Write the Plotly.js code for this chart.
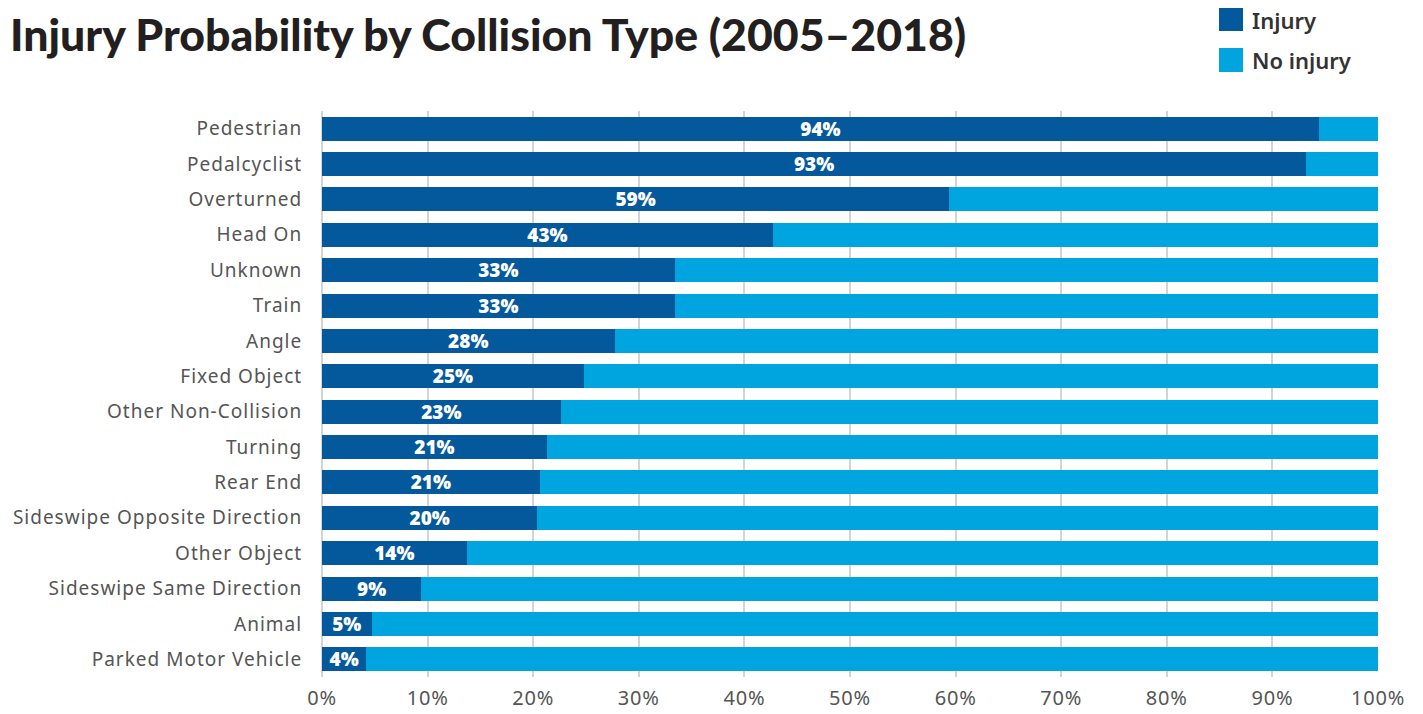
<!DOCTYPE html>
<html>
<head>
<meta charset="utf-8">
<script src="https://cdn.plot.ly/plotly-3.0.1.min.js"></script>
<style>
html,body{margin:0;padding:0;background:#fff;}
#chart{width:1423px;height:714px;}
#chart .ytick text{letter-spacing:1px;}
#chart .xtick text{letter-spacing:0.8px;}
</style>
</head>
<body>
<div id="chart"></div>
<script>
const categories = ["Pedestrian","Pedalcyclist","Overturned","Head On","Unknown","Train","Angle","Fixed Object","Other Non-Collision","Turning","Rear End","Sideswipe Opposite Direction","Other Object","Sideswipe Same Direction","Animal","Parked Motor Vehicle"];
const injury = [94.4, 93.2, 59.4, 42.7, 33.4, 33.4, 27.7, 24.8, 22.6, 21.3, 20.6, 20.4, 13.7, 9.4, 4.7, 4.2];
const noInjury = injury.map(v => 100 - v);
const xTickVals = [0,10,20,30,40,50,60,70,80,90,100];
const xTickText = xTickVals.map(v => v + "%");
const seriesNames = ["Injury", "No injury"];
const colors = ["#03599C", "#00A5DF"];

const traces = [
  {
    type: "bar", orientation: "h", name: seriesNames[0],
    y: categories, x: injury,
    marker: {color: colors[0], line: {width: 0}},
    text: injury.map(v => Math.round(v) + "%"),
    textposition: "inside", insidetextanchor: "middle",
    constraintext: "none",
    textfont: {family: "'Open Sans', sans-serif", size: 19, color: "#ffffff", weight: 800},
    hoverinfo: "skip", showlegend: false
  },
  {
    type: "bar", orientation: "h", name: seriesNames[1],
    y: categories, x: noInjury,
    marker: {color: colors[1], line: {width: 0}},
    hoverinfo: "skip", showlegend: false
  }
];

const PL = 322, PR = 1378, PT = 111, PB = 677;
const px = v => (v - PL) / (PR - PL);
const py = v => (PB - v) / (PB - PT);

const layout = {
  width: 1423, height: 714,
  margin: {l: PL, r: 1423 - PR, t: PT, b: 714 - PB, pad: 0},
  paper_bgcolor: "#fff", plot_bgcolor: "#fff",
  barmode: "stack", bargap: 0.32,
  font: {family: "'Noto Sans', sans-serif", color: "#555"},
  xaxis: {
    range: [0, 100], tickvals: xTickVals, ticktext: xTickText,
    showgrid: true, gridcolor: "#D4D4D6", gridwidth: 2,
    zeroline: true, zerolinecolor: "#D4D4D6", zerolinewidth: 2,
    tickfont: {size: 20, color: "#555"}, ticks: "outside", ticklen: 3, tickcolor: "rgba(0,0,0,0)",
    fixedrange: true, automargin: false
  },
  yaxis: {
    autorange: "reversed", type: "category",
    tickfont: {size: 19, color: "#555"}, ticks: "outside", ticklen: 15, tickcolor: "rgba(0,0,0,0)",
    showgrid: false, zeroline: false, fixedrange: true, automargin: false
  },
  shapes: [
    {type: "rect", xref: "paper", yref: "paper", x0: px(1219), x1: px(1243), y0: py(31), y1: py(8), fillcolor: colors[0], line: {width: 0}},
    {type: "rect", xref: "paper", yref: "paper", x0: px(1219), x1: px(1243), y0: py(72), y1: py(48), fillcolor: colors[1], line: {width: 0}}
  ],
  annotations: [
    {xref: "paper", yref: "paper", x: px(8), y: py(34), xanchor: "left", yanchor: "middle", showarrow: false,
     text: "Injury Probability by Collision Type (2005–2018)",
     font: {family: "Lato, 'Open Sans', sans-serif", size: 44.6, color: "#231F20", weight: 900}},
    {xref: "paper", yref: "paper", x: px(1250), y: py(20), xanchor: "left", yanchor: "middle", showarrow: false, text: seriesNames[0], font: {size: 22, color: "#333", weight: 600}},
    {xref: "paper", yref: "paper", x: px(1250), y: py(60), xanchor: "left", yanchor: "middle", showarrow: false, text: seriesNames[1], font: {size: 22, color: "#333", weight: 600}}
  ],
  showlegend: false
};

Plotly.newPlot("chart", traces, layout, {displayModeBar: false, staticPlot: true});
</script>
</body>
</html>
